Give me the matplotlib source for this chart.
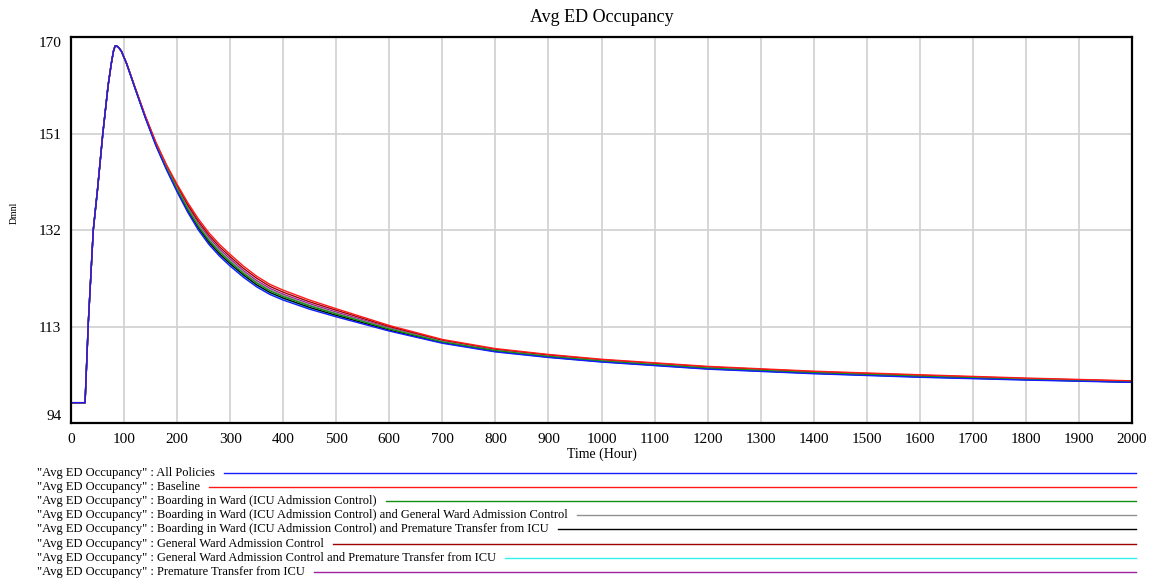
import matplotlib
matplotlib.use("Agg")
import matplotlib.pyplot as plt
from matplotlib.lines import Line2D

plt.rcParams["font.family"] = ["Liberation Serif", "DejaVu Serif"]

# =========================
# data (hours -> avg ED occupancy)
# =========================
# warm-up and peak, identical for every run
rise_t = [0, 26.5, 32.6, 42, 50, 60, 70, 76, 80, 83, 85]
rise_v = [98, 98, 113.7, 132, 140, 151, 160.5, 164.8, 167.2, 168.2, 168.3]

# decay after the peak
decay_t = [90, 95, 105, 120, 140, 160, 180, 200, 220, 240, 260, 280, 300, 325, 350,
           375, 400, 450, 500, 600, 700, 800, 900, 1000, 1200, 1400, 1600, 1800, 2000]

all_policies = [167.9, 167.2, 164.7, 160.1, 154.1, 148.6, 143.85, 139.5, 135.5, 132.0, 129.15, 126.85,
                124.9, 122.7, 120.8, 119.3, 118.2, 116.4, 114.9, 112.1, 109.7, 108.0, 106.9, 106.0,
                104.6, 103.7, 103.0, 102.45, 102.0]
baseline = [167.9, 167.2, 164.75, 160.3, 154.5, 149.3, 144.85, 141.0, 137.4, 134.2, 131.45, 129.15,
            127.2, 124.9, 122.9, 121.3, 120.15, 118.2, 116.5, 113.2, 110.45, 108.65, 107.5, 106.55,
            105.15, 104.2, 103.5, 102.85, 102.3]
boarding_icu = [167.9, 167.2, 164.7, 160.15, 154.25, 148.85, 144.2, 140.0, 136.15, 132.75, 129.95, 127.65,
                125.7, 123.45, 121.55, 120.0, 118.9, 117.05, 115.45, 112.5, 109.95, 108.25, 107.1, 106.2,
                104.8, 103.9, 103.2, 102.6, 102.1]
boarding_icu_gw = [167.9, 167.2, 164.7, 160.2, 154.3, 148.9, 144.3, 140.2, 136.35, 133.0, 130.2, 127.9,
                   125.95, 123.7, 121.75, 120.2, 119.1, 117.2, 115.6, 112.6, 110.05, 108.3, 107.15, 106.25,
                   104.85, 103.9, 103.2, 102.65, 102.15]
boarding_icu_pt = [167.9, 167.2, 164.7, 160.15, 154.2, 148.75, 144.05, 139.8, 135.9, 132.45, 129.6, 127.3,
                   125.35, 123.15, 121.2, 119.7, 118.6, 116.75, 115.2, 112.3, 109.85, 108.15, 107.0, 106.1,
                   104.7, 103.8, 103.1, 102.55, 102.05]
gw_admission = [167.9, 167.2, 164.75, 160.25, 154.4, 149.15, 144.65, 140.7, 137.0, 133.75, 131.0, 128.7,
                126.75, 124.45, 122.5, 120.9, 119.75, 117.85, 116.2, 113.0, 110.3, 108.5, 107.4, 106.45,
                105.05, 104.1, 103.4, 102.75, 102.25]
gw_admission_pt = [167.9, 167.2, 164.7, 160.1, 154.15, 148.65, 143.95, 139.65, 135.7, 132.2, 129.4, 127.1,
                   125.15, 122.9, 121.0, 119.5, 118.4, 116.6, 115.05, 112.2, 109.8, 108.05, 106.95, 106.05,
                   104.65, 103.75, 103.05, 102.5, 102.05]
premature_transfer = [167.9, 167.2, 164.75, 160.2, 154.35, 149.0, 144.45, 140.4, 136.65, 133.3, 130.55, 128.25,
                      126.3, 124.0, 122.05, 120.5, 119.35, 117.5, 115.85, 112.75, 110.15, 108.4, 107.25, 106.35,
                      104.95, 104.0, 103.3, 102.7, 102.2]

series_names = [
    "All Policies",
    "Baseline",
    "Boarding in Ward (ICU Admission Control)",
    "Boarding in Ward (ICU Admission Control) and General Ward Admission Control",
    "Boarding in Ward (ICU Admission Control) and Premature Transfer from ICU",
    "General Ward Admission Control",
    "General Ward Admission Control and Premature Transfer from ICU",
    "Premature Transfer from ICU",
]
series_values = [all_policies, baseline, boarding_icu, boarding_icu_gw,
                 boarding_icu_pt, gw_admission, gw_admission_pt, premature_transfer]
series_colors = ["#1a1aff", "#ff1a1a", "#109010", "#909090",
                 "#000000", "#a00000", "#30f0f0", "#a020a0"]

y_ticks = [94, 113, 132, 151, 170]
x_ticks = list(range(0, 2001, 100))


# =========================
# plot
# =========================
fig = plt.figure(figsize=(11.51, 5.79), dpi=100)
ax = fig.add_axes([71 / 1151, 1 - 423 / 579, (1132 - 71) / 1151, (423 - 37) / 579])

t_full = rise_t + decay_t
# all policies last so it sits on top
for vals, col in reversed(list(zip(series_values, series_colors))):
    ax.plot(t_full, rise_v + vals, color=col, linewidth=1.0)

ax.set_xlim(0, 2000)
ax.set_ylim(94, 170)
ax.set_xticks(x_ticks)
ax.set_xticklabels([str(v) for v in x_ticks], fontsize=11)
ax.set_yticks(y_ticks)
ax.set_yticklabels([str(v) for v in y_ticks], fontsize=11)
ax.tick_params(length=0, pad=7)
ax.yaxis.get_ticklabels()[0].set_va("bottom")
ax.yaxis.get_ticklabels()[-1].set_va("top")
ax.grid(True, color="#d0d0d0", linewidth=1.2)
ax.set_axisbelow(True)
for sp in ax.spines.values():
    sp.set_linewidth(1.6)

ax.set_xlabel("Time (Hour)", fontsize=10, labelpad=1)
ax.set_title("Avg ED Occupancy", fontsize=13, pad=11)
fig.text(14 / 1151, 1 - 213 / 579, "Dmnl", rotation=90, fontsize=7, ha="center", va="center")

# legend rows under the plot, each with a line running to the right edge
fig.canvas.draw()
renderer = fig.canvas.get_renderer()
row_y0 = 473
row_step = 14.1
for i, (name, col) in enumerate(zip(series_names, series_colors)):
    y = 1 - (row_y0 + i * row_step) / 579
    txt = fig.text(37 / 1151, y, f"\"Avg ED Occupancy\" : {name}", fontsize=9, va="center")
    bb = txt.get_window_extent(renderer)
    x0 = (bb.x1 + 9) / 1151
    fig.add_artist(Line2D([x0, 1136 / 1151], [y, y], color=col, linewidth=1.0,
                          transform=fig.transFigure))

fig.savefig("out.png", dpi=100)
